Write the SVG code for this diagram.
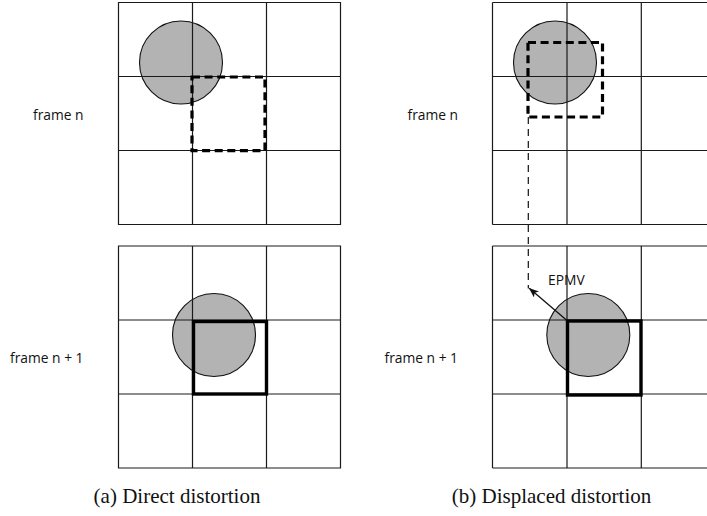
<svg xmlns="http://www.w3.org/2000/svg" width="707" height="516" viewBox="0 0 707 516">
  <style>
    .grid { fill: none; stroke: #1a1a1a; stroke-width: 1.2; }
    .obj { fill: #b3b3b3; stroke: #111; stroke-width: 1.1; }
    .blk { fill: none; stroke: #000; stroke-width: 3.4; }
    .ref { fill: none; stroke: #000; stroke-width: 3.2; stroke-dasharray: 8 4.6; }
    .lbl { font-family: "Open Sans", "Noto Sans", sans-serif; font-size: 13.8px; fill: #111; }
    .cap { font-family: "Liberation Serif", "Times New Roman", serif; font-size: 21px; fill: #111; }
    .trace { fill: none; stroke: #111; stroke-width: 1.2; stroke-dasharray: 7 5; }
    .mv { fill: none; stroke: #111; stroke-width: 1.3; }
  </style>
  <defs>
    <marker id="head" viewBox="0 0 10 8" refX="9.5" refY="4" markerWidth="10" markerHeight="8" markerUnits="userSpaceOnUse" orient="auto">
      <path d="M0,0 L10,4 L0,8 L2.5,4 Z" fill="#111"/>
    </marker>
  </defs>
  <rect width="707" height="516" fill="#fff"/>

  <!-- (a) frame n -->
  <g id="a-frame-n">
    <circle class="obj" cx="181" cy="62.5" r="41.5"/>
    <path class="grid" d="M118.5,2.5 H340.5 V224.5 H118.5 Z M192.5,2.5 V224.5 M266.5,2.5 V224.5 M118.5,76.5 H340.5 M118.5,150.5 H340.5"/>
    <path class="ref" d="M192,77 H265 V150.7 H192 Z"/>
    <text class="lbl" x="83.5" y="119.5" text-anchor="end">frame n</text>
  </g>

  <!-- (a) frame n + 1 -->
  <g id="a-frame-n1">
    <circle class="obj" cx="214" cy="335" r="41.5"/>
    <path class="grid" d="M118.5,246 H340.5 V468 H118.5 Z M192.5,246 V468 M266.5,246 V468 M118.5,320 H340.5 M118.5,394 H340.5"/>
    <rect class="blk" x="193.5" y="321.5" width="73" height="72.5"/>
    <text class="lbl" x="83.5" y="363" text-anchor="end">frame n + 1</text>
  </g>

  <!-- (b) frame n -->
  <g id="b-frame-n">
    <circle class="obj" cx="555" cy="62.5" r="41.5"/>
    <path class="grid" d="M492.5,2.5 H715.6 M492.5,224.5 H715.6 M492.5,2.5 V224.5 M567,2.5 V224.5 M641.3,2.5 V224.5 M492.5,76.5 H715.6 M492.5,150.5 H715.6"/>
    <path class="ref" d="M528,42.5 H602.5 V117 H528 Z"/>
    <text class="lbl" x="458" y="119.5" text-anchor="end">frame n</text>
  </g>

  <!-- (b) frame n + 1 -->
  <g id="b-frame-n1">
    <circle class="obj" cx="588.3" cy="335" r="41.5"/>
    <path class="grid" d="M492.5,246 H715.6 M492.5,468 H715.6 M492.5,246 V468 M567,246 V468 M641.3,246 V468 M492.5,320 H715.6 M492.5,394 H715.6"/>
    <rect class="blk" x="567.5" y="321" width="73.5" height="74"/>
    <text class="lbl" x="458" y="363" text-anchor="end">frame n + 1</text>
  </g>

  <!-- motion trace and EPMV vector -->
  <g id="connectors">
    <path class="trace" d="M528.3,117 V288.5"/>
    <path class="mv" d="M567,320.5 L529.3,288.3" marker-end="url(#head)"/>
    <text class="lbl" x="548" y="285" font-size="15">EPMV</text>
  </g>

  <!-- captions -->
  <text class="cap" x="177" y="503" text-anchor="middle">(a)  Direct distortion</text>
  <text class="cap" x="551.5" y="503" text-anchor="middle">(b)  Displaced distortion</text>
</svg>
